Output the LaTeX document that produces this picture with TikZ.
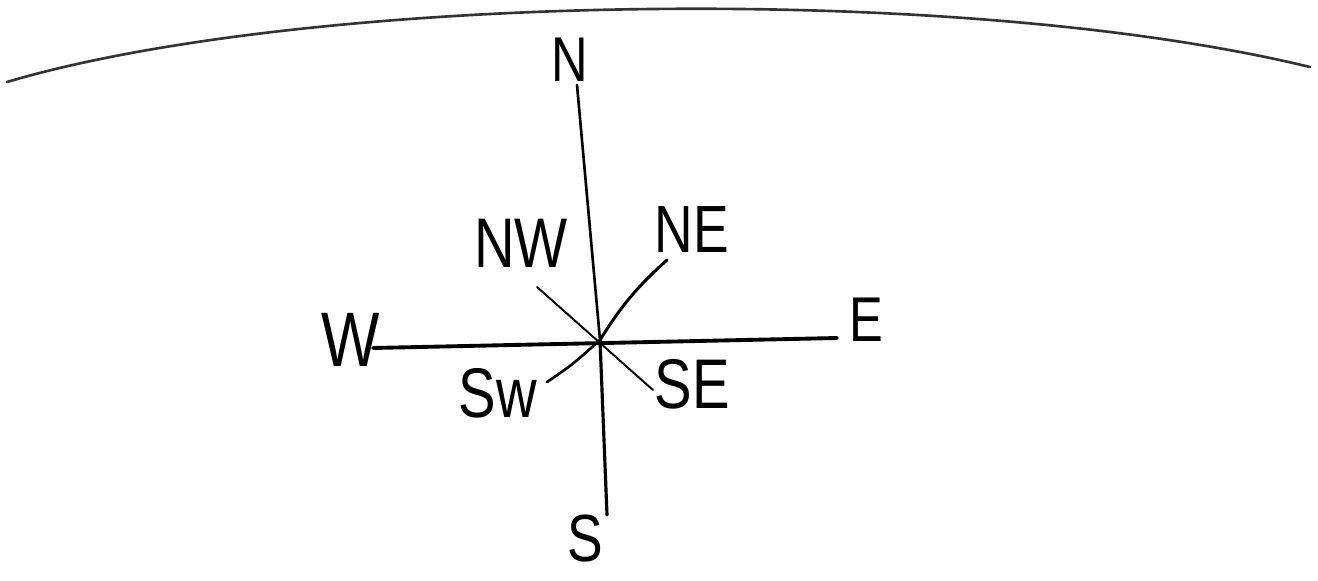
\documentclass[tikz,border=0pt]{standalone}
\usepackage{fontspec}
\newfontfamily\handfont[FakeStretch=0.8]{Liberation Sans}
\begin{document}
\begin{tikzpicture}[x=0.02cm,y=-0.02cm,
    dirlabel/.style={inner sep=0pt,font=\handfont\fontsize{40}{40}\selectfont},
    bigdir/.style={dirlabel,font=\handfont\fontsize{44}{44}\selectfont},
    smalldir/.style={dirlabel,font=\handfont\fontsize{36}{36}\selectfont},
    ray/.style={line width=1.1pt,line cap=round},
    mainray/.style={ray,line width=2pt}
  ]
  \useasboundingbox (0,0) rectangle (1318,581);
  \draw[line width=1.5pt,black!80,line cap=round] (7,82) .. controls (300,-5) and (950,-20) .. (1310,67);
  \coordinate (c) at (600,340);
  \coordinate (nend) at (577,85);
  \coordinate (send) at (607,515);
  \coordinate (wend) at (373,348);
  \coordinate (eend) at (837,338);
  \coordinate (neend) at (667,260);
  \coordinate (nwend) at (537,287);
  \coordinate (seend) at (653,390);
  \coordinate (swend) at (547,382);
  \node[smalldir] (n) at (570,60) {N};
  \node[bigdir] (w) at (351,340) {W};
  \node[smalldir] (e) at (866,320) {E};
  \node[dirlabel,font=\handfont\fontsize{38}{38}\selectfont] (s) at (585,539) {S};
  \node[dirlabel] (nw) at (521,243) {NW};
  \node[dirlabel,font=\handfont\fontsize{38}{38}\selectfont] (ne) at (692,230) {NE};
  \node[dirlabel] (sw) at (498,393) {Sw};
  \node[dirlabel] (se) at (692,384) {SE};
  \draw[ray,line width=1.5pt] (c)--(nend);
  \draw[mainray,line width=1.8pt] (c)--(send);
  \draw[mainray,line width=2.2pt] (wend)--(eend);
  \draw[ray] (nwend)--(seend);
  \draw[mainray,line width=1.7pt] (c) to[bend left=8] (neend);
  \draw[ray,line width=1.5pt] (c) .. controls (572,365) .. (swend);
\end{tikzpicture}
\end{document}
